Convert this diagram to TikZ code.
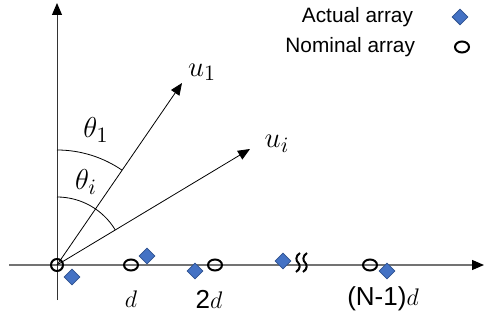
\documentclass[tikz,border=0pt]{standalone}
\usepackage{fontspec}
\setmainfont{Liberation Sans}
\usetikzlibrary{positioning, shapes.geometric, arrows.meta}
\definecolor{myblue}{RGB}{68,114,196}
\definecolor{mydarkblue}{RGB}{47,82,143}

\begin{document}
\begin{tikzpicture}[x=0.5pt, y=0.5pt,
  actual/.style={diamond, draw=mydarkblue, line width=0.4pt, fill=myblue, inner sep=0pt, minimum size=8pt},
  nominal/.style={ellipse, draw, line width=1pt, inner sep=0pt, minimum width=7pt, minimum height=5.5pt},
  vec/.style={-{Triangle[length=6pt, width=5pt]}, line width=0.4pt},
  lbl/.style={font=\fontsize{13}{15}\selectfont},
  mlbl/.style={font=\fontsize{15}{17}\selectfont},
  leg/.style={font=\fontsize{10.4}{12}\selectfont, anchor=east}]
\useasboundingbox (0,0) rectangle (485,320);

% Axes
\coordinate (O) at (57,55);
\coordinate (xl) at (9,55);
\coordinate (xr) at (484,55);
\coordinate (yb) at (57,20);
\coordinate (yt) at (57,317);
\draw[black!55, line width=0.6pt, -{Triangle[length=6pt, width=5pt, black]}] (xl) -- (xr);
\draw[black!80, line width=0.5pt, -{Triangle[length=6pt, width=5pt, black]}] (yb) -- (yt);

% Break on the axis
\foreach \bx in {298,305}{
  \draw[line width=1pt] (\bx+2,67) .. controls (\bx-3,64) and (\bx-2,59) .. (\bx,57.5)
    .. controls (\bx+2,56) and (\bx+3,51) .. (\bx-2,48);
}

% Directions
\coordinate (u1) at (182,237);
\coordinate (ui) at (250,171);
\draw[vec] (O) -- (u1);
\draw[vec] (O) -- (ui);
\node[mlbl] (u1lbl) at (202,248) {$u_1$};
\node[mlbl] (uilbl) at (277,176) {$u_i$};

% Angles
\draw[line width=0.4pt] (O) ++(0,115) arc[start angle=90, end angle=55.5, radius=57.5pt];
\draw[line width=0.4pt] (O) ++(0,68) arc[start angle=90, end angle=31, radius=34pt];
\node[mlbl] (th1) at (96,190) {$\theta_1$};
\node[mlbl] (thi) at (86,138) {$\theta_i$};

% Nominal array
\node[nominal, minimum width=6pt, minimum height=6pt] (n0) at (O) {};
\node[nominal] (n1) at (131,55) {};
\node[nominal] (n2) at (215,55) {};
\node[nominal] (n3) at (370,55) {};

% Actual array
\node[actual] (a0) at (72,43) {};
\node[actual] (a1) at (147,64) {};
\node[actual] (a2) at (195,49) {};
\node[actual] (a3) at (283,59) {};
\node[actual] (a4) at (387,49) {};

% Positions
\node[lbl] (d1) at (131,21) {$d$};
\node[lbl] (d2) at (209,21) {2$d$};
\node[lbl] (d3) at (383,21) {(N-1)$d$};

% Legend
\node[leg] (legA) at (420,303) {Actual array};
\node[actual] (legAm) at (460,303) {};
\node[leg] (legN) at (422,273) {Nominal array};
\node[nominal] (legNm) at (462,273) {};

\end{tikzpicture}
\end{document}
